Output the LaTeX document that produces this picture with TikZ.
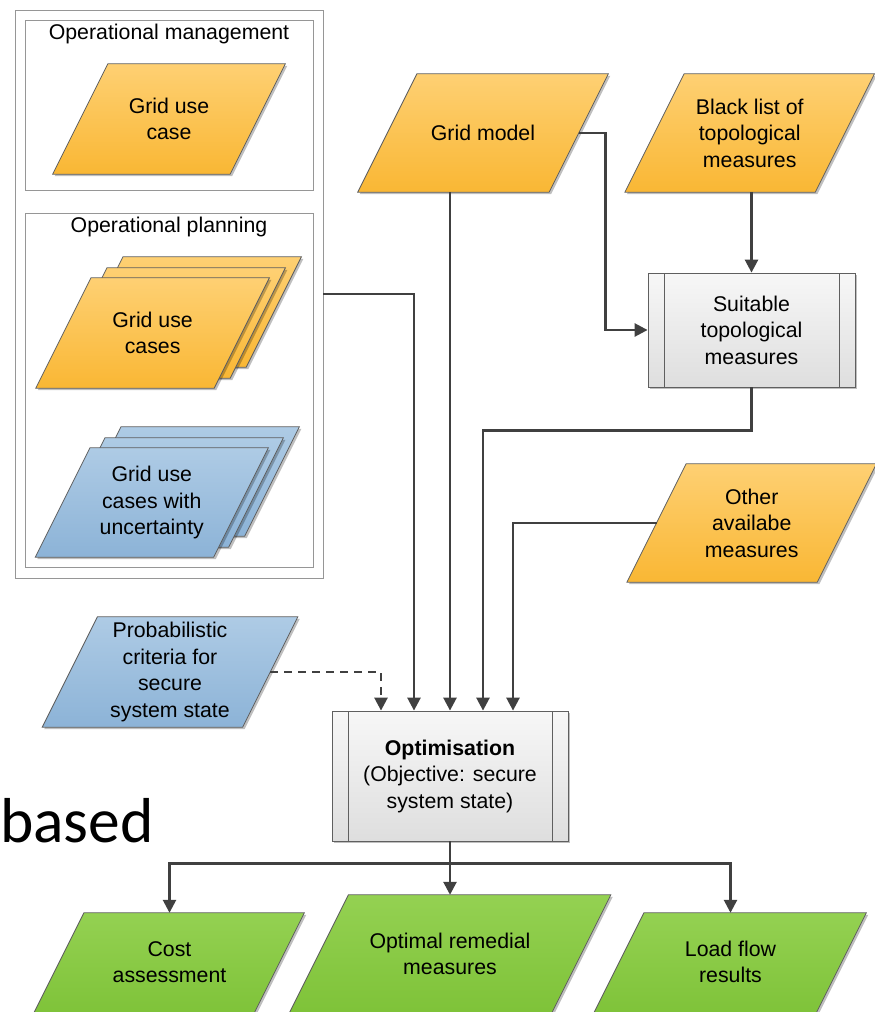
\documentclass[tikz,border=0pt]{standalone}
\usepackage{fontspec}
\setmainfont{Liberation Sans}
\newfontfamily\carlito{Carlito}
\usetikzlibrary{arrows.meta,backgrounds,calc,shadows}

\definecolor{orangetop}{RGB}{254,208,115}
\definecolor{orangebot}{RGB}{249,183,52}
\definecolor{bluetop}{RGB}{174,203,229}
\definecolor{bluebot}{RGB}{140,179,215}
\definecolor{greentop}{RGB}{148,209,82}
\definecolor{greenbot}{RGB}{121,191,50}
\definecolor{boxtop}{RGB}{247,247,247}
\definecolor{boxbot}{RGB}{222,222,222}
\definecolor{edgegray}{RGB}{95,95,95}
\definecolor{linegray}{RGB}{64,64,64}
\definecolor{framegray}{RGB}{150,150,150}

\tikzset{
  softshadow/.style={drop shadow={shadow xshift=2pt, shadow yshift=-2pt, opacity=.25, fill=black}},
  datanode/.style 2 args={minimum width=#1, minimum height=#2, inner sep=0pt, align=center},
  procbox/.style 2 args={draw=edgegray, line width=.8pt, top color=boxtop, bottom color=boxbot,
    minimum width=#1, minimum height=#2, align=center, softshadow,
    path picture={\draw[edgegray, line width=.8pt]
      ([xshift=16pt]path picture bounding box.north west) -- ([xshift=16pt]path picture bounding box.south west)
      ([xshift=-16pt]path picture bounding box.north east) -- ([xshift=-16pt]path picture bounding box.south east);}},
  frame/.style 2 args={draw=framegray, line width=.9pt, minimum width=#1, minimum height=#2},
  conn/.style={draw=linegray, line width=2.6pt, -{Triangle[length=13pt,width=13pt]}}
}

% parallelogram behind a data node: node, colour, shift, extra depth
\newcommand\paragon[4]{%
  \path[draw=edgegray, line width=.8pt, top color=#2top, bottom color=#2bot, softshadow]
    let \p1=(#1.north), \p2=(#1.south), \n1={0.25*(\y1-\y2)} in
    ([shift={(#3)}, xshift=\n1]#1.north west) -- ([shift={(#3)}, xshift=\n1]#1.north east)
    -- ([shift={(#3)}, xshift=-\n1-0.5*#4, yshift=-#4]#1.south east)
    -- ([shift={(#3)}, xshift=-\n1-0.5*#4, yshift=-#4]#1.south west) -- cycle;
}

\begin{document}
\begin{tikzpicture}[x=1pt, y=-1pt, font=\fontsize{21.3}{26.5}\selectfont]
    \useasboundingbox (0,0) rectangle (875,1012);
    \clip (0,0) rectangle (875,1012);

    % grid use cases
    \node[frame={308}{568}] (cases) at (169,294) {};
    \node[frame={288}{170}] (mgmt) at (169,105) {};
    \node[frame={288}{354}] (plan) at (169,390) {};
    \node (mgmttitle) at (169,34) {Operational management};
    \node (plantitle) at (169,227) {Operational planning};
    \node[datanode={177}{110}] (guc) at (169,119) {Grid use\\case};
    \node[datanode={178}{110}] (gucs) at (152.6,333) {Grid use\\cases};
    \node[datanode={178}{109}] (gucu) at (151.8,502.5) {Grid use\\cases with\\uncertainty};
    \node[datanode={200}{110}] (pc) at (170,672) {Probabilistic\\criteria for\\secure\\system state};

    % model and measures
    \node[datanode={191}{118}] (gm) at (483,133) {Grid model};
    \node[datanode={190}{118}] (bl) at (749.7,133) {Black list of\\topological\\measures};
    \node[procbox={207}{114}] (stm) at (751.5,330) {Suitable\\topological\\measures};
    \node[datanode={190}{118}] (oam) at (751.7,523) {Other\\availabe\\measures};

    % optimisation and results
    \node[procbox={236}{130}] (opt) at (450,776) {\textbf{Optimisation}\\(Objective: secure\\system state)};
    \node[datanode={220}{98}] (ca) at (169.5,962) {Cost\\assessment};
    \node[datanode={262}{118}] (orm) at (450,954) {Optimal remedial\\measures};
    \node[datanode={222}{98}] (lfr) at (730.5,962) {Load flow\\results};

    \node[font=\fontsize{63.5}{70}\selectfont\carlito, anchor=base west, inner sep=0pt] (based) at (0,842) {based};

    \begin{scope}[on background layer]
        \paragon{guc}{orange}{0,0}{0}
        \paragon{gucs}{orange}{32,-21}{0}
        \paragon{gucs}{orange}{16,-10}{0}
        \paragon{gucs}{orange}{0,0}{0}
        \paragon{gucu}{blue}{31,-21}{0}
        \paragon{gucu}{blue}{15,-10}{0}
        \paragon{gucu}{blue}{0,0}{0}
        \paragon{pc}{blue}{0,0}{0}
        \paragon{gm}{orange}{0,0}{0}
        \paragon{bl}{orange}{0,0}{0}
        \paragon{oam}{orange}{0,0}{0}
        \paragon{ca}{green}{0,0}{30}
        \paragon{orm}{green}{0,0}{30}
        \paragon{lfr}{green}{0,0}{30}
    \end{scope}

    \draw[conn] (gm.south -| opt.north) -- (opt.north);
    \draw[conn] (gm.east) -- ++(27,0) |- (stm.west);
    \draw[conn] (bl.south -| stm.north) -- (stm.north);
    \draw[conn] (stm.south) -- ++(0,43) -| ([xshift=33pt]opt.north);
    \draw[conn] (oam.west) -| ([xshift=63pt]opt.north);
    \draw[conn] (cases.east) -| ([xshift=-36pt]opt.north);
    \draw[conn, dash pattern=on 8pt off 6pt] (pc.east) -| ([xshift=-69pt]opt.north);
    \draw[linegray, line width=2.6pt] (opt.south) -- ++(0,22) coordinate (split);
    \draw[conn] (split) -| (ca.north);
    \draw[conn] (split) -- (orm.north);
    \draw[conn] (split) -| (lfr.north);
\end{tikzpicture}
\end{document}
